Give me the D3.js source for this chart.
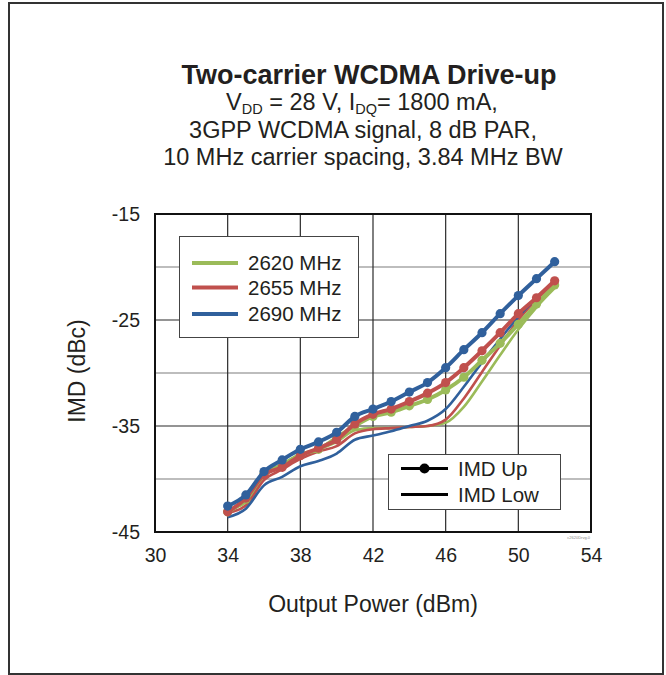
<!DOCTYPE html>
<html><head><meta charset="utf-8">
<script src="https://cdn.jsdelivr.net/npm/d3@7"></script>
<style>
html,body{margin:0;padding:0;background:#fff;}
text{font-family:"Liberation Sans",Arial,Helvetica,sans-serif;fill:#231f20;}
</style></head>
<body>
<svg id="chart" width="666" height="675"></svg>
<script>
// ---- data ----
const outputPower = [34,35,36,37,38,39,40,41,42,43,44,45,46,47,48,49,50,51,52];
const series = ["2620 MHz","2655 MHz","2690 MHz"];
const colors = ["#9bbb59","#c0504d","#30609c"];
const imdUp2620 = [-43.1,-41.9,-39.5,-38.7,-37.7,-37.2,-36.1,-35.0,-34.1,-33.7,-33.1,-32.5,-31.6,-30.4,-28.8,-27.2,-25.4,-23.5,-21.7];
const imdUp2655 = [-43.1,-41.8,-39.6,-38.9,-37.8,-37.1,-36.3,-34.8,-33.9,-33.4,-32.7,-31.9,-30.9,-29.5,-27.9,-26.2,-24.4,-22.9,-21.3];
const imdUp2690 = [-42.55,-41.5,-39.3,-38.2,-37.2,-36.5,-35.6,-34.1,-33.4,-32.7,-31.8,-30.9,-29.5,-27.8,-26.2,-24.4,-22.7,-21.1,-19.5];
const imdLow2620 = [-42.9,-42.2,-39.8,-38.6,-37.7,-37.2,-36.5,-35.4,-35.2,-35.2,-35.1,-35.0,-34.7,-33.2,-30.8,-28.3,-25.9,-23.8,-22.0];
const imdLow2655 = [-43.2,-42.5,-40.1,-39.1,-38.1,-37.4,-36.9,-35.7,-35.3,-35.2,-35.1,-35.0,-34.4,-32.4,-29.9,-27.4,-25.0,-23.1,-21.4];
const imdLow2690 = [-43.6,-42.8,-40.6,-39.8,-38.8,-38.3,-37.6,-36.3,-35.9,-35.5,-35.0,-34.5,-33.4,-31.3,-29.0,-26.8,-24.7,-22.9,-21.4];
const xTicks = [30,34,38,42,46,50,54];
const yTicks = [-45,-35,-25,-15];
const yMinorGrid = [-40,-30,-20];
const titleText = "Two-carrier WCDMA Drive-up";
const subtitleLines = ["3GPP WCDMA signal, 8 dB PAR,","10 MHz carrier spacing, 3.84 MHz BW"];
const imdLegend = ["IMD Up","IMD Low"];

const upData = [imdUp2620, imdUp2655, imdUp2690];
const lowData = [imdLow2620, imdLow2655, imdLow2690];

const svg = d3.select("#chart");
// outer frame
svg.append("rect").attr("x",9).attr("y",3).attr("width",654).attr("height",671)
  .attr("fill","#fff").attr("stroke","#333").attr("stroke-width",2);

const m = {l:155, r:591, t:214, b:532};
const x = d3.scaleLinear().domain([30,54]).range([m.l,m.r]);
const y = d3.scaleLinear().domain([-45,-15]).range([m.b,m.t]);

// title
const cx = 365;
svg.append("text").attr("x",cx+4).attr("y",84).attr("text-anchor","middle")
  .attr("font-size",27).attr("font-weight","bold").text(titleText);
const l2 = svg.append("text").attr("x",cx-3).attr("y",110).attr("text-anchor","middle").attr("font-size",23.5);
l2.append("tspan").text("V");
l2.append("tspan").attr("font-size",14.5).attr("dy",4).text("DD");
l2.append("tspan").attr("dy",-4).text(" = 28 V, I");
l2.append("tspan").attr("font-size",14.5).attr("dy",4).text("DQ");
l2.append("tspan").attr("dy",-4).text("= 1800 mA,");
subtitleLines.forEach((s,i)=>{
  svg.append("text").attr("x",cx-2).attr("y",138+27*i).attr("text-anchor","middle")
    .attr("font-size",23.5).text(s);
});

// grid
const g = svg.append("g");
yMinorGrid.forEach(v=>{
  g.append("line").attr("x1",m.l).attr("x2",m.r).attr("y1",y(v)).attr("y2",y(v))
   .attr("stroke","#bdbdbd").attr("stroke-width",2);
});
yTicks.slice(1,-1).forEach(v=>{
  g.append("line").attr("x1",m.l).attr("x2",m.r).attr("y1",y(v)).attr("y2",y(v))
   .attr("stroke","#2a2a2a").attr("stroke-width",1.2);
});
xTicks.slice(1,-1).forEach(v=>{
  g.append("line").attr("y1",m.t).attr("y2",m.b).attr("x1",x(v)).attr("x2",x(v))
   .attr("stroke","#2a2a2a").attr("stroke-width",1.2);
});

// axes (labels via d3 axis)
const xAxis = svg.append("g").attr("transform",`translate(0,${m.b})`)
  .call(d3.axisBottom(x).tickValues(xTicks).tickSize(0).tickPadding(16).tickFormat(d=>String(d)));
xAxis.select(".domain").remove();
xAxis.selectAll("text").attr("font-size",19.5).attr("fill","#231f20")
  .attr("font-family","Liberation Sans, Arial, sans-serif");
const yAxis = svg.append("g").attr("transform",`translate(${m.l},0)`)
  .call(d3.axisLeft(y).tickValues(yTicks).tickSize(0).tickPadding(15).tickFormat(d=>String(d)));
yAxis.select(".domain").remove();
yAxis.selectAll("text").attr("font-size",19.5).attr("fill","#231f20")
  .attr("font-family","Liberation Sans, Arial, sans-serif");

svg.append("text").attr("x",(m.l+m.r)/2).attr("y",612).attr("text-anchor","middle")
  .attr("font-size",23).text("Output Power (dBm)");
svg.append("text").attr("transform",`translate(85,${(m.t+m.b)/2 - 2}) rotate(-90)`)
  .attr("text-anchor","middle").attr("font-size",23).text("IMD (dBc)");

// plot border
svg.append("rect").attr("x",m.l).attr("y",m.t).attr("width",m.r-m.l).attr("height",m.b-m.t)
  .attr("fill","none").attr("stroke","#111").attr("stroke-width",2);

// curves
const line = d3.line().x((d,i)=>x(outputPower[i])).y(d=>y(d)).curve(d3.curveMonotoneX);
const cg = svg.append("g");
series.forEach((s,k)=>{
  cg.append("path").datum(lowData[k]).attr("d",line).attr("fill","none")
    .attr("stroke",colors[k]).attr("stroke-width",2.6);
});
series.forEach((s,k)=>{
  cg.append("path").datum(upData[k]).attr("d",line).attr("fill","none")
    .attr("stroke",colors[k]).attr("stroke-width",4);
  cg.selectAll(null).data(upData[k]).enter().append("circle")
    .attr("cx",(d,i)=>x(outputPower[i])).attr("cy",d=>y(d)).attr("r",4.6)
    .attr("fill",colors[k]);
});

// legend 1
const lg = svg.append("g");
lg.append("rect").attr("x",179.5).attr("y",236.5).attr("width",179).attr("height",101)
  .attr("fill","#fff").attr("stroke","#444").attr("stroke-width",1);
const legY = [263, 287.5, 314];
series.forEach((s,k)=>{
  lg.append("line").attr("x1",192).attr("x2",238).attr("y1",legY[k]).attr("y2",legY[k])
    .attr("stroke",colors[k]).attr("stroke-width",4);
  lg.append("text").attr("x",248).attr("y",legY[k]+7).attr("font-size",20.5).text(s);
});

// legend 2
const lg2 = svg.append("g");
lg2.append("rect").attr("x",388.5).attr("y",454.5).attr("width",172).attr("height",55)
  .attr("fill","#fff").attr("stroke","#444").attr("stroke-width",1);
const leg2Y = [468.5, 494.5];
imdLegend.forEach((s,k)=>{
  lg2.append("line").attr("x1",401).attr("x2",448).attr("y1",leg2Y[k]).attr("y2",leg2Y[k])
    .attr("stroke","#000").attr("stroke-width",3);
  if(k===0) lg2.append("circle").attr("cx",424.5).attr("cy",leg2Y[k]).attr("r",5).attr("fill","#000");
  lg2.append("text").attr("x",458).attr("y",leg2Y[k]+7).attr("font-size",20.5).text(s);
});

// tiny figure id
svg.append("text").attr("x",590).attr("y",539).attr("text-anchor","end")
  .attr("font-size",4).style("fill","#888").text("c2620Drvg.0");
</script>
</body></html>
